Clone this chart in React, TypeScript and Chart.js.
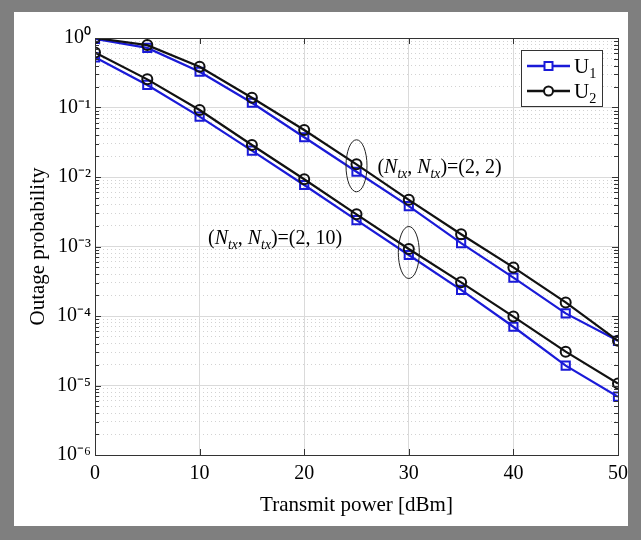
import React, { useEffect, useRef } from 'react';
import { Chart, registerables } from 'chart.js';

Chart.register(...registerables);

const power = [0, 5, 10, 15, 20, 25, 30, 35, 40, 45, 50];
const u1Nt2 = [0.97, 0.72, 0.327, 0.117, 0.0373, 0.0119, 0.0038, 0.00112, 0.000356, 0.000109, 4.4e-5];
const u2Nt2 = [1.0, 0.79, 0.386, 0.138, 0.0475, 0.0152, 0.0047, 0.0015, 0.0005, 0.000157, 4.4e-5];
const u1Nt10 = [0.527, 0.211, 0.0738, 0.024, 0.00767, 0.0024, 0.000755, 0.000237, 7.0e-5, 1.93e-5, 6.9e-6];
const u2Nt10 = [0.62, 0.254, 0.092, 0.0289, 0.00927, 0.0029, 0.00092, 0.000305, 9.8e-5, 3.07e-5, 1.07e-5];
const xTicks = [0, 10, 20, 30, 40, 50];
const yExponents = [-6, -5, -4, -3, -2, -1, 0];
const legendNames = ['U', 'U'];
const legendSubs = ['1', '2'];
const groupLabels = ['=(2, 2)', '=(2, 10)'];
const groupLabelX = [27, 10.8];
const groupLabelY = [0.0145, 0.00138];
const ellipseX = [25, 30];
const ellipseY = [0.0145, 0.00082];

const FONT = "'Liberation Serif', 'Times New Roman', serif";
const BLUE = '#1a1ad8';
const BLACK = '#111111';

const SUP: Record<string, string> = { '-': '\u207B', '0': '\u2070', '1': '\u00B9', '2': '\u00B2', '3': '\u00B3', '4': '\u2074', '5': '\u2075', '6': '\u2076' };
const toSup = (s: string) => s.split('').map((c) => SUP[c] || c).join('');
const isDecade = (v: number) => Math.abs(Math.log10(v) - Math.round(Math.log10(v))) < 1e-6;

const pts = (ys: number[]) => power.map((x, i) => ({ x, y: ys[i] }));

const framePlugin = {
  id: 'frame',
  beforeDraw(chart: any) {
    const { ctx, width, height } = chart;
    ctx.save();
    ctx.fillStyle = '#7f7f7f';
    ctx.fillRect(0, 0, width, height);
    ctx.fillStyle = '#ffffff';
    ctx.fillRect(14, 12, 614, 514);
    ctx.restore();
  },
};

function drawMixed(ctx: CanvasRenderingContext2D, x: number, y: number, parts: { t: string; italic?: boolean; sub?: boolean }[], size: number) {
  let cx = x;
  ctx.textBaseline = 'alphabetic';
  ctx.textAlign = 'left';
  for (const p of parts) {
    const s = p.sub ? size * 0.68 : size;
    ctx.font = `${p.italic ? 'italic ' : ''}${s}px ${FONT}`;
    ctx.fillText(p.t, cx, p.sub ? y + size * 0.25 : y);
    cx += ctx.measureText(p.t).width;
  }
}

const overlayPlugin = {
  id: 'overlay',
  afterDatasetsDraw(chart: any) {
    const { ctx, chartArea: a, scales } = chart;
    const xs = scales.x;
    const ys = scales.y;
    ctx.save();
    // ellipses
    ctx.strokeStyle = '#222';
    ctx.lineWidth = 1;
    for (let i = 0; i < ellipseX.length; i++) {
      ctx.beginPath();
      ctx.ellipse(xs.getPixelForValue(ellipseX[i]), ys.getPixelForValue(ellipseY[i]), 10.5, 26, 0, 0, Math.PI * 2);
      ctx.stroke();
    }
    // group labels
    ctx.fillStyle = '#000';
    for (let i = 0; i < groupLabels.length; i++) {
      const px = xs.getPixelForValue(groupLabelX[i]);
      const py = ys.getPixelForValue(groupLabelY[i]) + 7;
      drawMixed(ctx, px, py, [
        { t: '(' },
        { t: 'N', italic: true },
        { t: 'tx', italic: true, sub: true },
        { t: ', ' },
        { t: 'N', italic: true },
        { t: 'tx', italic: true, sub: true },
        { t: ')' + groupLabels[i] },
      ], 20);
    }
    // axes box + inner ticks
    ctx.strokeStyle = '#333';
    ctx.lineWidth = 1;
    ctx.setLineDash([]);
    ctx.strokeRect(Math.round(a.left) + 0.5, Math.round(a.top) + 0.5, Math.round(a.right - a.left), Math.round(a.bottom - a.top));
    ctx.beginPath();
    for (const t of xs.ticks) {
      const px = Math.round(xs.getPixelForValue(t.value)) + 0.5;
      ctx.moveTo(px, a.bottom); ctx.lineTo(px, a.bottom - 6);
      ctx.moveTo(px, a.top); ctx.lineTo(px, a.top + 6);
    }
    for (const t of ys.ticks) {
      const py = Math.round(ys.getPixelForValue(t.value)) + 0.5;
      const len = isDecade(t.value) ? 6 : 4;
      ctx.moveTo(a.left, py); ctx.lineTo(a.left + len, py);
      ctx.moveTo(a.right, py); ctx.lineTo(a.right - len, py);
    }
    ctx.stroke();
    // legend
    const bx = 521, by = 50, bw = 81, bh = 56;
    ctx.fillStyle = '#fff';
    ctx.fillRect(bx, by, bw, bh);
    ctx.strokeStyle = '#333';
    ctx.strokeRect(bx + 0.5, by + 0.5, bw, bh);
    const colors = [BLUE, BLACK];
    for (let i = 0; i < 2; i++) {
      const ry = by + 16 + i * 25;
      ctx.strokeStyle = colors[i];
      ctx.lineWidth = 2.5;
      ctx.beginPath();
      ctx.moveTo(bx + 6, ry); ctx.lineTo(bx + 49, ry);
      ctx.stroke();
      ctx.lineWidth = 2;
      ctx.beginPath();
      if (i === 0) ctx.rect(bx + 27.5 - 4, ry - 4, 8, 8);
      else ctx.arc(bx + 27.5, ry, 4.5, 0, Math.PI * 2);
      ctx.fillStyle = '#fff';
      ctx.fill();
      ctx.stroke();
      ctx.fillStyle = '#000';
      drawMixed(ctx, bx + 53, ry + 7, [{ t: legendNames[i] }, { t: legendSubs[i], sub: true }], 21);
    }
    ctx.restore();
  },
};

export default function App() {
  const ref = useRef<HTMLCanvasElement>(null);
  useEffect(() => {
    const canvas = ref.current!;
    const lineDs = (label: string, data: number[], color: string, style: string, order: number) => ({
      label,
      data: pts(data),
      borderColor: color,
      backgroundColor: color,
      borderWidth: 2.2,
      pointStyle: style,
      pointRadius: style === 'rect' ? 5.8 : 5,
      pointBorderWidth: 2,
      pointBorderColor: color,
      pointBackgroundColor: 'rgba(255,255,255,0)',
      tension: 0,
      order,
    });
    const chart = new Chart(canvas, {
      type: 'line',
      data: {
        datasets: [
          lineDs('U1 (2,2)', u1Nt2, BLUE, 'rect', 1),
          lineDs('U2 (2,2)', u2Nt2, BLACK, 'circle', 0),
          lineDs('U1 (2,10)', u1Nt10, BLUE, 'rect', 1),
          lineDs('U2 (2,10)', u2Nt10, BLACK, 'circle', 0),
        ] as any,
      },
      options: {
        animation: false,
        responsive: false,
        devicePixelRatio: 1,
        layout: { padding: { left: 0, right: 23, top: 38, bottom: 0 } },
        plugins: { legend: { display: false }, tooltip: { enabled: false } },
        scales: {
          x: {
            type: 'linear',
            min: 0,
            max: 50,
            afterBuildTicks: (s: any) => { s.ticks = xTicks.map((v) => ({ value: v })); },
            afterFit: (s: any) => { s.height = 85; },
            ticks: { font: { family: FONT, size: 20 }, color: '#000', padding: 7, maxRotation: 0, autoSkip: false },
            grid: { drawTicks: false, color: '#dadada', lineWidth: 1 },
            border: { display: false },
            title: { display: true, text: 'Transmit power [dBm]', font: { family: FONT, size: 21 }, color: '#000', padding: { top: 0, bottom: 22 } },
          },
          y: {
            type: 'logarithmic',
            min: 1e-6,
            max: 1,
            afterBuildTicks: (s: any) => {
              const t: { value: number }[] = [];
              for (const e of yExponents) {
                for (let m = 1; m <= 9; m++) {
                  const v = m * Math.pow(10, e);
                  if (v <= 1.0000001) t.push({ value: v });
                }
              }
              s.ticks = t;
            },
            afterFit: (s: any) => { s.width = 95; },
            ticks: {
              autoSkip: false,
              font: { family: FONT, size: 20 },
              color: '#000',
              padding: 4,
              callback: (v: any) => (isDecade(Number(v)) ? '10' + toSup(String(Math.round(Math.log10(Number(v))))) : ''),
            },
            grid: {
              drawTicks: false,
              lineWidth: 1,
              color: (c: any) => (c.tick && !isDecade(c.tick.value) ? '#d2d2d2' : '#dadada'),
            },
            border: { display: false, dash: (c: any) => (c.tick && !isDecade(c.tick.value) ? [1, 3] : []) },
            title: { display: true, text: 'Outage probability', font: { family: FONT, size: 21 }, color: '#000', padding: { top: 26, bottom: 0 } },
          },
        },
      } as any,
      plugins: [framePlugin, overlayPlugin],
    });
    return () => chart.destroy();
  }, []);
  return (
    <canvas
      ref={ref}
      width={641}
      height={540}
      style={{ position: 'absolute', left: 0, top: 0, width: 641, height: 540, display: 'block' }}
    />
  );
}
